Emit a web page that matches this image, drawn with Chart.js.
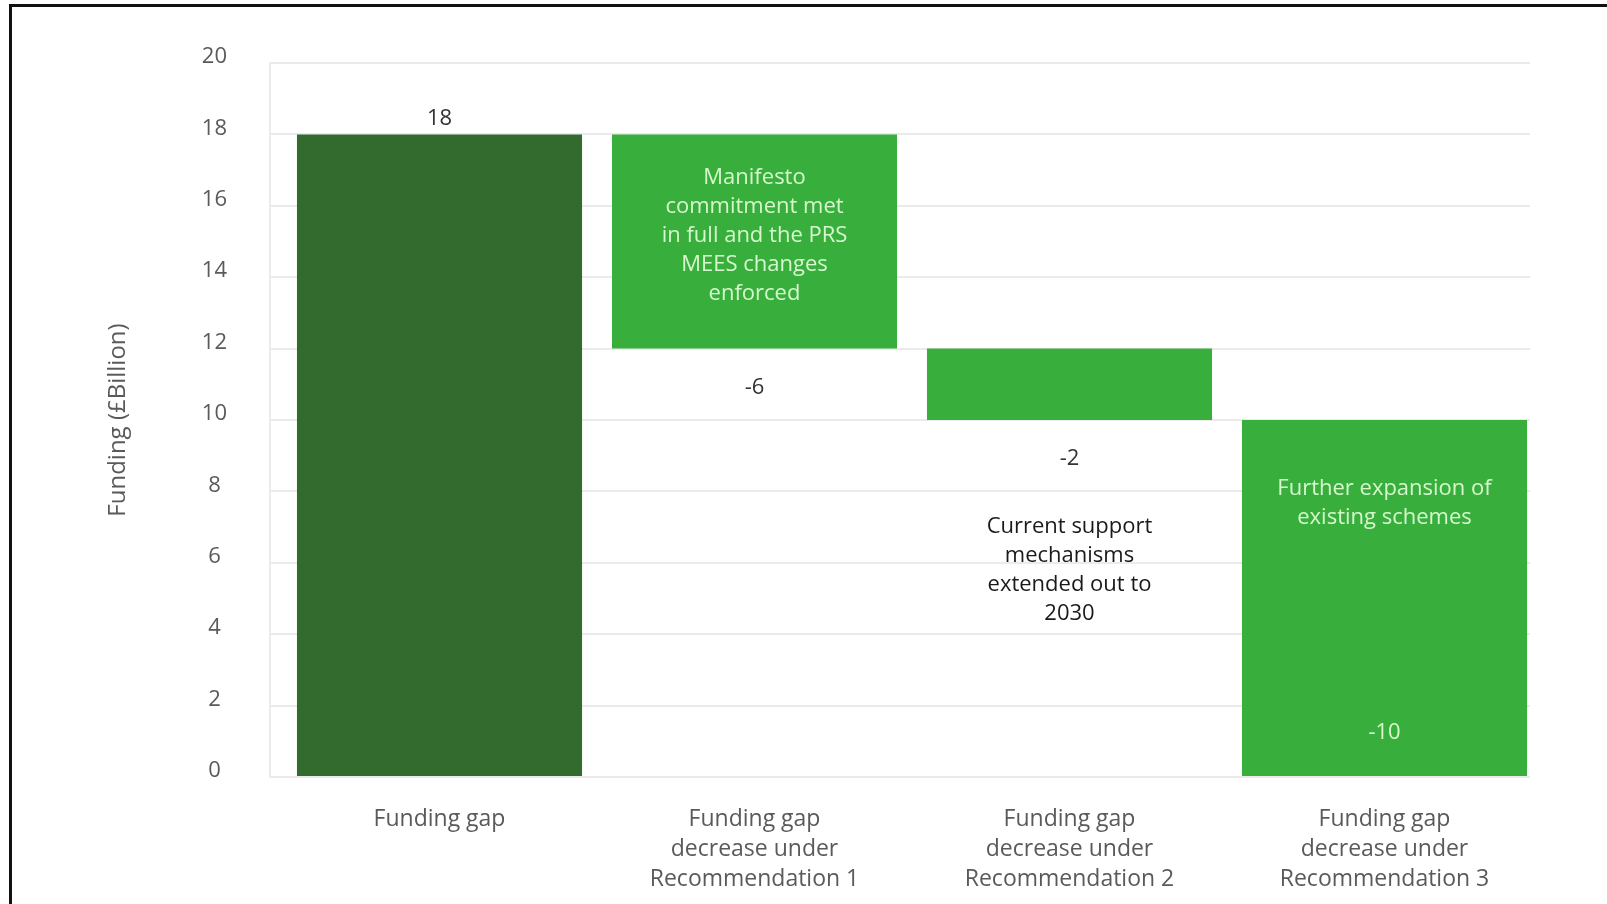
<!DOCTYPE html>
<html>
<head>
<meta charset="utf-8">
<script src="https://cdn.jsdelivr.net/npm/chart.js@4.4.1/dist/chart.umd.min.js"></script>
<style>
  body { margin: 0; background: #fff; }
  #wrap { position: relative; width: 1607px; height: 904px; }
  #frame { position: absolute; left: 9px; top: 4px; right: -10px; bottom: -10px;
           border-left: 3px solid #111; border-top: 3px solid #111; pointer-events: none; }
</style>
</head>
<body>
<div id="wrap">
  <canvas id="fundChart" width="1607" height="904"></canvas>
  <div id="frame"></div>
</div>
<script>
var categories = [
     ['Funding gap'],
     ['Funding gap', 'decrease under', 'Recommendation 1'],
     ['Funding gap', 'decrease under', 'Recommendation 2'],
     ['Funding gap', 'decrease under', 'Recommendation 3']
];
var changes = [18, -6, -2, -10];
var notes = [
     [],
     ['Manifesto', 'commitment met', 'in full and the PRS', 'MEES changes', 'enforced'],
     ['Current support', 'mechanisms', 'extended out to', '2030'],
     ['Further expansion of', 'existing schemes']
];
var yTicks = [0, 2, 4, 6, 8, 10, 12, 14, 16, 18, 20];

// waterfall ranges from running total
var ranges = [];
var running = 0;
changes.forEach(function(v, i) {
     var start = i === 0 ? 0 : running;
     running = i === 0 ? v : running + v;
     ranges.push([Math.min(start, running), Math.max(start, running)]);
});

var darkGreen = '#336a2e';
var green = '#38af3d';
var paleText = '#d6f8cc';
var fontName = "'Open Sans', sans-serif";
var barShift = 12; // bars sit a little right of the category centre in the original

// where each value label / note sits relative to its bar
var valueSpot = ['above', 'below', 'below', 'insideBottom'];
var valueColor = ['#333', '#333', '#333', paleText];
var noteSpot = [null, 'inside', 'below', 'insideTop'];
var noteColor = [null, paleText, '#1a1a1a', paleText];

var shiftBars = {
     id: 'shiftBars',
     beforeDatasetsDraw: function(chart) {
          chart.ctx.save();
          chart.ctx.translate(barShift, 0);
     },
     afterDatasetsDraw: function(chart) {
          chart.ctx.restore();
     }
};

var barText = {
     id: 'barText',
     afterDatasetsDraw: function(chart) {
          var ctx = chart.ctx;
          var y = chart.scales.y;
          var bars = chart.getDatasetMeta(0).data;
          ctx.save();
          ctx.textAlign = 'center';
          ctx.textBaseline = 'middle';
          ctx.font = '22px ' + fontName;
          bars.forEach(function(bar, i) {
               var cx = bar.x + barShift;
               var top = y.getPixelForValue(ranges[i][1]);
               var bottom = y.getPixelForValue(ranges[i][0]);
               var ly;
               if (valueSpot[i] === 'above') ly = top - 16;
               else if (valueSpot[i] === 'below') ly = bottom + 39;
               else ly = bottom - 44;
               ctx.fillStyle = valueColor[i];
               ctx.fillText(String(changes[i]), cx, ly);

               var lines = notes[i];
               if (!lines.length) return;
               var lh = 29;
               var first;
               if (noteSpot[i] === 'inside') first = (top + bottom) / 2 - 6 - (lines.length - 1) * lh / 2;
               else if (noteSpot[i] === 'below') first = bottom + 107;
               else first = top + 69;
               ctx.fillStyle = noteColor[i];
               lines.forEach(function(t, k) {
                    ctx.fillText(t, cx, first + k * lh);
               });
          });
          ctx.restore();
     }
};

new Chart('fundChart', {
     type: 'bar',
     data: {
          labels: categories,
          datasets: [
               {
                    label: 'Funding',
                    data: ranges,
                    backgroundColor: changes.map(function(v, i) { return i === 0 ? darkGreen : green; }),
                    borderWidth: 0,
                    barPercentage: 0.905,
                    categoryPercentage: 1
               }
          ]
     },
     options: {
          responsive: false,
          animation: false,
          layout: {
               padding: { left: 100, right: 77, top: 63, bottom: 0 }
          },
          plugins: {
               legend: { display: false },
               tooltip: { enabled: false }
          },
          scales: {
               y: {
                    min: 0,
                    max: 20,
                    afterBuildTicks: function(scale) {
                         scale.ticks = yTicks.map(function(v) { return { value: v }; });
                    },
                    afterFit: function(scale) {
                         scale.width = 170;
                         scale.paddingTop = 0;
                         scale.paddingBottom = 0;
                    },
                    grid: {
                         color: '#ebebeb',
                         lineWidth: 2,
                         drawTicks: false
                    },
                    border: { color: '#ebebeb', width: 2 },
                    ticks: {
                         padding: 43,
                         labelOffset: -6,
                         crossAlign: 'center',
                         color: '#5a5a5a',
                         font: { family: fontName, size: 22 }
                    },
                    title: {
                         display: true,
                         text: 'Funding (£Billion)',
                         color: '#5a5a5a',
                         padding: { top: 4, bottom: 0 },
                         font: { family: fontName, size: 24 }
                    }
               },
               x: {
                    afterFit: function(scale) { scale.height = 127; },
                    grid: { display: false, drawTicks: false },
                    border: { display: false },
                    ticks: {
                         padding: 28,
                         labelOffset: barShift,
                         maxRotation: 0,
                         autoSkip: false,
                         color: '#5a5a5a',
                         font: { family: fontName, size: 23, lineHeight: 1.3 }
                    }
               }
          }
     },
     plugins: [shiftBars, barText]
});
</script>
</body>
</html>
